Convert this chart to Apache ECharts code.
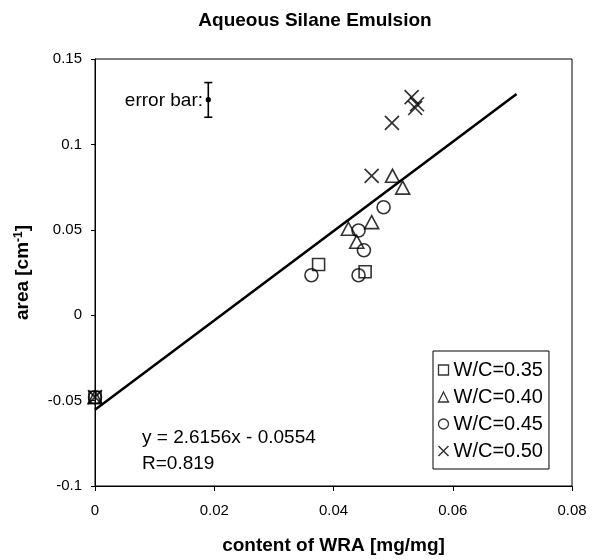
<!DOCTYPE html>
<html>
<head>
<meta charset="utf-8">
<script src="https://cdn.jsdelivr.net/npm/echarts@6/dist/echarts.min.js"></script>
<style>
html,body{margin:0;padding:0;background:#fff;}
#c{width:593px;height:560px;}
</style>
</head>
<body>
<div id="c"></div>
<script>
// ---- data ----
var seriesNames = ['W/C=0.35', 'W/C=0.40', 'W/C=0.45', 'W/C=0.50'];
var sqX  = [0, 0.0375, 0.0453];
var sqY  = [-0.048, 0.0297, 0.0254];
var triX = [0, 0.0425, 0.0439, 0.0464, 0.0499, 0.0516];
var triY = [-0.048, 0.0506, 0.0430, 0.0545, 0.0816, 0.0747];
var cirX = [0, 0.0363, 0.0442, 0.0442, 0.0451, 0.0484];
var cirY = [-0.048, 0.0234, 0.0234, 0.0496, 0.0380, 0.0632];
var crX  = [0, 0.0464, 0.0498, 0.0531, 0.0537, 0.0540];
var crY  = [-0.048, 0.0816, 0.1126, 0.1277, 0.1213, 0.1235];
// regression line y = slope*x + intercept, drawn over this x range
var slope = 2.6156, intercept = -0.0554;
var fitX = [0, 0.0707];
// error bar example: x, y, low, high
var errX = [0.019], errY = [0.1262], errLow = [0.1159], errHigh = [0.1362];
var xTicks = [0, 0.02, 0.04, 0.06, 0.08];
var yTicks = [-0.1, -0.05, 0, 0.05, 0.1, 0.15];

function zip(xs, ys){ return xs.map(function(x,i){ return [x, ys[i]]; }); }

var FONT = '"Liberation Sans", Arial, Helvetica, sans-serif';
var crossPath = 'path://M0,0L10,10M10,0L0,10';
var outline = {color:'transparent', borderColor:'#000', borderWidth:1.6};

var chart = echarts.init(document.getElementById('c'), null, {renderer:'canvas'});
chart.setOption({
  animation:false,
  backgroundColor:'#fff',
  textStyle:{fontFamily:FONT, color:'#000'},
  title:{
    text:'Aqueous Silane Emulsion',
    left:310, top:6, textAlign:'center',
    textStyle:{fontFamily:FONT, fontWeight:'bold', fontSize:19, color:'#000'}
  },
  grid:{left:95, right:21, top:59, bottom:71, show:true, borderColor:'#000', borderWidth:1, backgroundColor:'transparent'},
  xAxis:{
    type:'value', min:xTicks[0], max:xTicks[xTicks.length-1], interval:0.02,
    name:'content of WRA [mg/mg]', nameLocation:'middle', nameGap:50,
    nameTextStyle:{fontFamily:FONT, fontWeight:'bold', fontSize:19, color:'#000'},
    axisLine:{onZero:false, lineStyle:{color:'#000', width:1}},
    axisTick:{inside:false, length:5, lineStyle:{color:'#000'}},
    axisLabel:{margin:17, fontSize:15, color:'#000', fontFamily:FONT,
      formatter:function(v){ return String(+v.toFixed(2)); }},
    splitLine:{show:false}
  },
  yAxis:{
    type:'value', min:yTicks[0], max:yTicks[yTicks.length-1], interval:0.05,
    name:'area [cm{sup|-1}]', nameLocation:'middle', nameGap:62,
    nameTextStyle:{fontFamily:FONT, fontWeight:'bold', fontSize:19, color:'#000',
      rich:{sup:{fontFamily:FONT, fontWeight:'bold', fontSize:12, verticalAlign:'top', padding:[0,0,8,0], color:'#000'}}},
    axisLine:{onZero:false, lineStyle:{color:'#000', width:1}},
    axisTick:{inside:false, length:4, lineStyle:{color:'#000'}},
    axisLabel:{margin:13, fontSize:15, color:'#000', fontFamily:FONT,
      formatter:function(v){ return String(+v.toFixed(2)); }},
    splitLine:{show:false}
  },
  legend:{
    orient:'vertical', left:433, top:351,
    padding:[9,6,8,3], itemGap:7, itemWidth:10, itemHeight:10,
    borderColor:'#000', borderWidth:1, backgroundColor:'#fff',
    textStyle:{fontFamily:FONT, fontSize:20, color:'#000', lineHeight:20},
    data:[
      {name:seriesNames[0], icon:'rect', itemStyle:{color:'#fff', borderColor:'#000', borderWidth:1.3}},
      {name:seriesNames[1], icon:'triangle', itemStyle:{color:'#fff', borderColor:'#000', borderWidth:1.3}},
      {name:seriesNames[2], icon:'circle', itemStyle:{color:'#fff', borderColor:'#000', borderWidth:1.3}},
      {name:seriesNames[3], icon:crossPath, itemStyle:{color:'none', borderColor:'#000', borderWidth:1.5}}
    ]
  },
  graphic:[
    {type:'text', x:203, y:101, style:{text:'error bar:', fontFamily:FONT, fontSize:19, fill:'#000', align:'right', verticalAlign:'middle'}},
    {type:'text', x:142, y:438, style:{text:'y = 2.6156x - 0.0554', fontFamily:FONT, fontSize:19, fill:'#000', align:'left', verticalAlign:'middle'}},
    {type:'text', x:142, y:464, style:{text:'R=0.819', fontFamily:FONT, fontSize:19, fill:'#000', align:'left', verticalAlign:'middle'}}
  ],
  series:[
    {name:'fit', type:'line', data:fitX.map(function(x){ return [x, slope*x+intercept]; }),
     symbol:'none', lineStyle:{color:'#000', width:2.6}, z:3, silent:true},
    {name:seriesNames[0], type:'scatter', data:zip(sqX, sqY), symbol:'rect', symbolSize:12, itemStyle:outline, z:4},
    {name:seriesNames[1], type:'scatter', data:zip(triX, triY), symbol:'triangle', symbolSize:[14,13], itemStyle:outline, z:4},
    {name:seriesNames[2], type:'scatter', data:zip(cirX, cirY), symbol:'circle', symbolSize:13, itemStyle:outline, z:4},
    {name:seriesNames[3], type:'scatter', data:zip(crX, crY), symbol:crossPath, symbolSize:14, itemStyle:{color:'none', borderColor:'#000', borderWidth:1.7}, z:4},
    {name:'errorbar', type:'custom', z:5, silent:true,
     data:errX.map(function(x,i){ return [x, errY[i], errLow[i], errHigh[i]]; }),
     renderItem:function(params, api){
       var c = api.coord([api.value(0), api.value(1)]);
       var lo = api.coord([api.value(0), api.value(2)]);
       var hi = api.coord([api.value(0), api.value(3)]);
       var w = 4;
       var st = {stroke:'#000', lineWidth:1.6};
       return {type:'group', children:[
         {type:'line', shape:{x1:c[0], y1:lo[1], x2:c[0], y2:hi[1]}, style:st},
         {type:'line', shape:{x1:c[0]-w, y1:lo[1], x2:c[0]+w, y2:lo[1]}, style:st},
         {type:'line', shape:{x1:c[0]-w, y1:hi[1], x2:c[0]+w, y2:hi[1]}, style:st},
         {type:'circle', shape:{cx:c[0], cy:c[1], r:2.6}, style:{fill:'#000'}}
       ]};
     }}
  ]
});
</script>
</body>
</html>
